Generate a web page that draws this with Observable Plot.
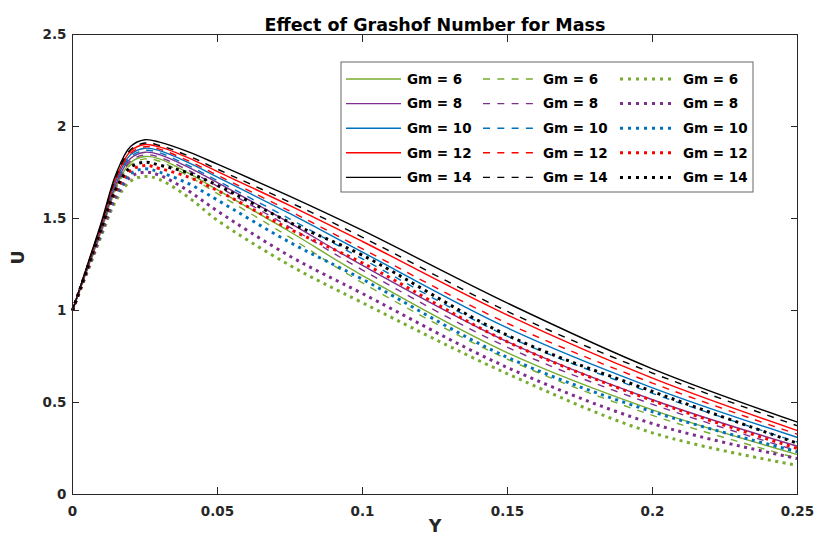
<!DOCTYPE html>
<html><head><meta charset="utf-8">
<script src="https://cdn.jsdelivr.net/npm/d3@7"></script>
<script src="https://cdn.jsdelivr.net/npm/@observablehq/plot@0.6"></script>
<style>body{margin:0;background:#fff;}</style>
</head><body><div id="chart"></div>
<script>
const titleText = "Effect of Grashof Number for Mass";
const xLabel = "Y";
const yLabel = "U";
const xTickValues = [0, 0.05, 0.1, 0.15, 0.2, 0.25];
const xTickLabels = ["0", "0.05", "0.1", "0.15", "0.2", "0.25"];
const yTickValues = [0, 0.5, 1, 1.5, 2, 2.5];
const yTickLabels = ["0", "0.5", "1", "1.5", "2", "2.5"];

const gmValues = [6, 8, 10, 12, 14];
const gmColors = ["#77AC30", "#7E2F8E", "#0072BD", "#FF0000", "#000000"];
const styleNames = ["solid", "dashed", "dotted"];

const xs = [0, 0.005, 0.01, 0.015, 0.02, 0.025, 0.03, 0.04, 0.05, 0.075, 0.1, 0.15, 0.2, 0.25];

const solidGm6  = [1, 1.218, 1.435, 1.670, 1.804, 1.837, 1.824, 1.747, 1.655, 1.428, 1.190, 0.770, 0.460, 0.217];
const solidGm8  = [1, 1.224, 1.447, 1.688, 1.826, 1.860, 1.847, 1.778, 1.695, 1.475, 1.245, 0.830, 0.515, 0.262];
const solidGm10 = [1, 1.229, 1.459, 1.706, 1.847, 1.882, 1.869, 1.804, 1.725, 1.526, 1.317, 0.905, 0.580, 0.310];
const solidGm12 = [1, 1.235, 1.469, 1.722, 1.866, 1.902, 1.889, 1.829, 1.755, 1.570, 1.375, 0.975, 0.632, 0.347];
const solidGm14 = [1, 1.241, 1.483, 1.742, 1.891, 1.928, 1.915, 1.862, 1.795, 1.620, 1.435, 1.040, 0.683, 0.393];

const dashedGm6  = [1, 1.214, 1.428, 1.659, 1.791, 1.824, 1.811, 1.730, 1.635, 1.397, 1.150, 0.735, 0.430, 0.197];
const dashedGm8  = [1, 1.220, 1.440, 1.677, 1.812, 1.846, 1.833, 1.761, 1.675, 1.452, 1.220, 0.800, 0.490, 0.237];
const dashedGm10 = [1, 1.226, 1.452, 1.696, 1.835, 1.870, 1.857, 1.788, 1.705, 1.497, 1.280, 0.860, 0.550, 0.285];
const dashedGm12 = [1, 1.231, 1.463, 1.712, 1.854, 1.890, 1.877, 1.813, 1.735, 1.540, 1.335, 0.930, 0.605, 0.327];
const dashedGm14 = [1, 1.237, 1.473, 1.728, 1.874, 1.910, 1.897, 1.840, 1.768, 1.588, 1.398, 0.995, 0.660, 0.373];

const dottedGm6  = [1, 1.204, 1.408, 1.597, 1.703, 1.728, 1.712, 1.615, 1.490, 1.245, 1.042, 0.656, 0.335, 0.158];
const dottedGm8  = [1, 1.211, 1.421, 1.617, 1.726, 1.752, 1.735, 1.650, 1.540, 1.295, 1.092, 0.690, 0.385, 0.195];
const dottedGm10 = [1, 1.216, 1.431, 1.631, 1.743, 1.770, 1.752, 1.690, 1.600, 1.370, 1.170, 0.745, 0.450, 0.232];
const dottedGm12 = [1, 1.221, 1.441, 1.646, 1.760, 1.788, 1.772, 1.725, 1.652, 1.442, 1.258, 0.830, 0.510, 0.250];
const dottedGm14 = [1, 1.226, 1.451, 1.661, 1.778, 1.806, 1.790, 1.748, 1.680, 1.478, 1.300, 0.865, 0.560, 0.278];

const seriesByStyle = {
  solid:  [solidGm6, solidGm8, solidGm10, solidGm12, solidGm14],
  dashed: [dashedGm6, dashedGm8, dashedGm10, dashedGm12, dashedGm14],
  dotted: [dottedGm6, dottedGm8, dottedGm10, dottedGm12, dottedGm14]
};

const rows = [];
for (const s of styleNames) {
  seriesByStyle[s].forEach((vals, i) => {
    vals.forEach((u, j) => rows.push({style: s, gm: gmValues[i], x: xs[j], u}));
  });
}

const styleSpec = {
  solid:  {strokeWidth: 1.4, strokeDasharray: null},
  dashed: {strokeWidth: 1.4, strokeDasharray: "7,7"},
  dotted: {strokeWidth: 3, strokeDasharray: "3,4.5"}
};

const font = "DejaVu Sans";
const tickColor = "#262626";

const lineMarks = styleNames.map(s => Plot.line(rows.filter(d => d.style === s), {
  x: "x", y: "u", z: "gm", stroke: "gm",
  strokeWidth: styleSpec[s].strokeWidth,
  strokeDasharray: styleSpec[s].strokeDasharray,
  strokeLinecap: "butt",
  strokeLinejoin: "miter",
  curve: "catmull-rom"
}));

const chart = Plot.plot({
  width: 817,
  height: 540,
  marginLeft: 72,
  marginRight: 20,
  marginTop: 34,
  marginBottom: 46,
  style: {fontFamily: font, fontSize: "13.5px", fontWeight: "bold", background: "white", color: tickColor},
  x: {domain: [0, 0.25]},
  y: {domain: [0, 2.5]},
  color: {type: "ordinal", domain: gmValues, range: gmColors},
  marks: [
    ...lineMarks,
    Plot.frame({stroke: tickColor, strokeWidth: 1}),
    Plot.axisX({anchor: "bottom", ticks: xTickValues, tickFormat: (d, i) => xTickLabels[i], tickSize: -7, tickPadding: 19, label: null, stroke: tickColor, fill: tickColor}),
    Plot.axisX({anchor: "top", ticks: xTickValues, tickFormat: () => "", tickSize: -7, label: null, stroke: tickColor}),
    Plot.axisY({anchor: "left", ticks: yTickValues, tickFormat: (d, i) => yTickLabels[i], tickSize: -7, tickPadding: 13, label: null, stroke: tickColor, fill: tickColor}),
    Plot.axisY({anchor: "right", ticks: yTickValues, tickFormat: () => "", tickSize: -7, label: null, stroke: tickColor}),
    Plot.text([titleText], {frameAnchor: "top", dy: -16, fontSize: 17.5, fontWeight: "bold", fill: "#000"}),
    Plot.text([yLabel], {frameAnchor: "left", dx: -54, rotate: -90, fontSize: 17.5, fontWeight: "bold", fill: tickColor}),
    Plot.text([xLabel], {frameAnchor: "bottom", dy: 37, fontSize: 17.5, fontWeight: "bold", fill: tickColor})
  ]
});

document.getElementById("chart").appendChild(chart);

// Legend (MATLAB-style, 3 columns x 5 rows)
const svg = d3.select(chart);
const legendBox = {left: 341, top: 62, width: 412, height: 130};
const legendRowY = gmValues.map((_, i) => 79 + i * 24.6);
const legendCols = [
  {style: "solid",  x0: 346, len: 55, tx: 407},
  {style: "dashed", x0: 483, len: 50, tx: 543},
  {style: "dotted", x0: 620, len: 55, tx: 683}
];
const legendDash = {solid: null, dashed: "7,7.3", dotted: "3,5"};
const lg = svg.append("g").attr("class", "legend");
lg.append("rect")
  .attr("x", legendBox.left).attr("y", legendBox.top)
  .attr("width", legendBox.width).attr("height", legendBox.height)
  .attr("fill", "white").attr("stroke", "#666").attr("stroke-width", 1);
legendCols.forEach(col => {
  gmValues.forEach((gm, i) => {
    const y = legendRowY[i];
    lg.append("line")
      .attr("x1", col.x0).attr("x2", col.x0 + col.len)
      .attr("y1", y).attr("y2", y)
      .attr("stroke", gmColors[i])
      .attr("stroke-width", styleSpec[col.style].strokeWidth)
      .attr("stroke-linecap", "butt")
      .attr("stroke-dasharray", legendDash[col.style]);
    lg.append("text")
      .attr("x", col.tx).attr("y", y)
      .attr("dy", "0.36em")
      .attr("text-anchor", "start")
      .attr("font-family", font).attr("font-size", 13.5).attr("font-weight", "bold")
      .attr("fill", "#000")
      .text(`Gm = ${gm}`);
  });
});
</script>
</body></html>
